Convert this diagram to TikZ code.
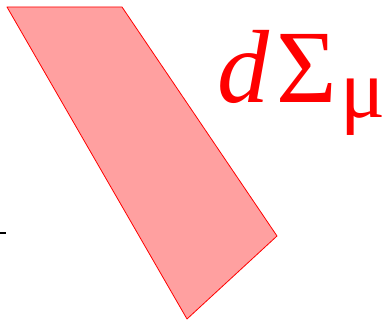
\documentclass[tikz,border=0pt]{standalone}
\usepackage{fontspec}
\setmainfont{Liberation Serif}
\usepackage{tikz}
\usetikzlibrary{positioning}
\definecolor{surfink}{HTML}{FF0000}
\definecolor{surffill}{HTML}{FFA0A0}

\begin{document}
\begin{tikzpicture}[x=1pt,y=1pt,
 surf/.style={draw=surfink,fill=surffill,line width=.8pt,line join=round},
 lab/.style={text=surfink,inner sep=0pt,anchor=base west}]
\useasboundingbox (0,0) rectangle (389,320);
\draw[surf] (7,313) -- (122,313) -- (277,84) -- (187,1) -- cycle;
\node[lab] (dsigma) at (217,217) {\fontsize{104}{110}\selectfont\textit{d}\kern7pt Σ\kern4pt\raisebox{-15pt}{\fontsize{84}{88}\selectfont μ}};
\coordinate (tick) at (0,87);
\draw[line width=1.5pt] (tick) -- ++(6,0);
\end{tikzpicture}
\end{document}
